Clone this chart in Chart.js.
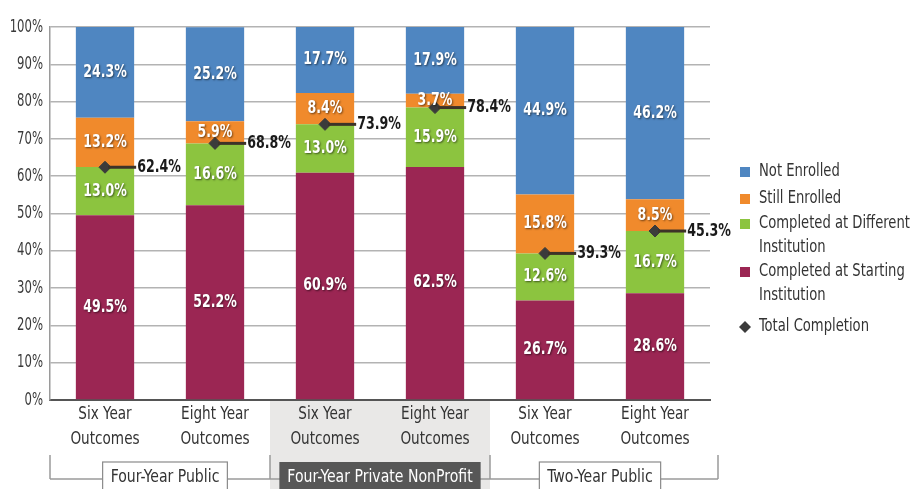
<!DOCTYPE html>
<html>
<head>
<meta charset="utf-8">
<script src="https://cdn.jsdelivr.net/npm/chart.js@4"></script>
<style>
  html, body { margin: 0; padding: 0; background: #fff; }
  #wrap { width: 912px; height: 489px; position: relative; }
</style>
</head>
<body>
<div id="wrap"><canvas id="chart"></canvas></div>
<script>
// Categorías y grupos
const categories = [
    ['Six Year', 'Outcomes'], ['Eight Year', 'Outcomes'],
    ['Six Year', 'Outcomes'], ['Eight Year', 'Outcomes'],
    ['Six Year', 'Outcomes'], ['Eight Year', 'Outcomes']
];
const groups = ['Four-Year Public', 'Four-Year Private NonProfit', 'Two-Year Public'];
const yTicks = [0, 10, 20, 30, 40, 50, 60, 70, 80, 90, 100];

// Series (porcentajes)
const completedStarting = [49.5, 52.2, 60.9, 62.5, 26.7, 28.6];
const completedDifferent = [13.0, 16.6, 13.0, 15.9, 12.6, 16.7];
const stillEnrolled = [13.2, 5.9, 8.4, 3.7, 15.8, 8.5];
const notEnrolled = [24.3, 25.2, 17.7, 17.9, 44.9, 46.2];
const totalCompletion = [62.4, 68.8, 73.9, 78.4, 39.3, 45.3];

const FONT = '"DejaVu Sans Condensed", "DejaVu Sans", sans-serif';
const colors = {
    notEnrolled: '#4f86c1',
    still: '#f08a2c',
    different: '#8cc43f',
    starting: '#9b2653',
    total: '#3b3b3b'
};

// Texto comprimido horizontalmente (la fuente original es condensada)
function narrowText(ctx, text, x, y, sx, align) {
    ctx.save();
    ctx.translate(x, y);
    ctx.scale(sx, 1);
    ctx.textAlign = align;
    ctx.fillText(text, 0, 0);
    ctx.restore();
}

// Fondo gris del grupo central, etiquetas de ejes y grupos
const groupDecor = {
    id: 'groupDecor',
    beforeDraw(chart) {
        const ctx = chart.ctx, xs = chart.scales.x, area = chart.chartArea;
        const step = xs.getPixelForValue(1) - xs.getPixelForValue(0);
        ctx.save();
        ctx.fillStyle = '#e9e8e7';
        const x0 = xs.getPixelForValue(2) - step / 2;
        ctx.fillRect(x0, area.bottom + 1, step * 2, chart.height - area.bottom);
        ctx.restore();
    },
    afterDraw(chart) {
        const ctx = chart.ctx, xs = chart.scales.x, ys = chart.scales.y, area = chart.chartArea;
        const step = xs.getPixelForValue(1) - xs.getPixelForValue(0);
        ctx.save();
        ctx.textBaseline = 'middle';

        // Etiquetas del eje Y
        ctx.fillStyle = '#3a3a3a';
        ctx.font = '18px ' + FONT;
        yTicks.forEach(v => narrowText(ctx, v + '%', area.left - 7, ys.getPixelForValue(v), 0.72, 'right'));

        // Etiquetas de categorías
        ctx.fillStyle = '#333';
        ctx.font = '18px ' + FONT;
        categories.forEach((lines, i) => {
            lines.forEach((t, k) => narrowText(ctx, t, xs.getPixelForValue(i), 414 + k * 25, 0.84, 'center'));
        });

        // Corchetes de grupos
        const lineY = 479;
        ctx.strokeStyle = '#9a9a9a';
        ctx.lineWidth = 1.5;
        ctx.beginPath();
        ctx.moveTo(area.left, lineY); ctx.lineTo(area.right + 8, lineY);
        for (let g = 0; g <= 3; g++) {
            let x = xs.getPixelForValue(g * 2) - step / 2;
            if (g === 3) x += 8;
            ctx.moveTo(x, 455); ctx.lineTo(x, lineY);
        }
        ctx.stroke();

        ctx.font = '17px ' + FONT;
        groups.forEach((name, g) => {
            const cx = (xs.getPixelForValue(g * 2) + xs.getPixelForValue(g * 2 + 1)) / 2 + (g === 0 ? 5 : 0);
            const w = ctx.measureText(name).width * 0.92 + 16;
            const dark = g === 1;
            ctx.fillStyle = dark ? '#575757' : '#fff';
            ctx.fillRect(cx - w / 2, 462, w, 30);
            if (!dark) {
                ctx.strokeStyle = '#8a8a8a';
                ctx.lineWidth = 1.2;
                ctx.strokeRect(cx - w / 2, 462, w, 30);
            }
            ctx.fillStyle = dark ? '#fff' : '#333';
            narrowText(ctx, name, cx, 478, 0.92, 'center');
        });
        ctx.restore();
    }
};

// Etiquetas de segmentos, totales y leyenda
const labelsPlugin = {
    id: 'labelsPlugin',
    afterDatasetsDraw(chart) {
        const ctx = chart.ctx;
        ctx.save();
        ctx.font = 'bold 17px ' + FONT;
        ctx.textBaseline = 'middle';
        chart.data.datasets.forEach((ds, i) => {
            if (ds.type === 'line') return;
            chart.getDatasetMeta(i).data.forEach((bar, j) => {
                ctx.shadowColor = 'rgba(0,0,0,0.55)';
                ctx.shadowBlur = 2;
                ctx.shadowOffsetX = 1;
                ctx.shadowOffsetY = 1;
                ctx.fillStyle = '#fff';
                narrowText(ctx, ds.data[j].toFixed(1) + '%', bar.x, (bar.y + bar.base) / 2, 0.82, 'center');
            });
        });
        ctx.shadowColor = 'transparent';
        const bars = chart.getDatasetMeta(0).data;
        const tIdx = chart.data.datasets.findIndex(d => d.type === 'line');
        ctx.font = 'bold 18px ' + FONT;
        chart.getDatasetMeta(tIdx).data.forEach((pt, j) => {
            const right = bars[j].x + bars[j].width / 2;
            ctx.strokeStyle = '#3d3328';
            ctx.lineWidth = 3;
            ctx.beginPath();
            ctx.moveTo(pt.x + 3, pt.y);
            ctx.lineTo(right + 2, pt.y);
            ctx.stroke();
            ctx.fillStyle = '#1a1a1a';
            narrowText(ctx, totalCompletion[j].toFixed(1) + '%', right + 3, pt.y, 0.78, 'left');
        });

        // Leyenda
        const items = [
            { text: ['Not Enrolled'], color: colors.notEnrolled, y: 172 },
            { text: ['Still Enrolled'], color: colors.still, y: 199 },
            { text: ['Completed at Different', 'Institution'], color: colors.different, y: 224 },
            { text: ['Completed at Starting', 'Institution'], color: colors.starting, y: 272 },
            { text: ['Total Completion'], color: colors.total, y: 327, diamond: true }
        ];
        ctx.font = '17px ' + FONT;
        items.forEach(it => {
            ctx.fillStyle = it.color;
            if (it.diamond) {
                ctx.beginPath();
                ctx.moveTo(745, it.y - 6); ctx.lineTo(751, it.y);
                ctx.lineTo(745, it.y + 6); ctx.lineTo(739, it.y);
                ctx.closePath(); ctx.fill();
            } else {
                ctx.fillRect(740, it.y - 5, 10, 10);
            }
            ctx.fillStyle = '#333';
            it.text.forEach((t, k) => narrowText(ctx, t, 759, it.y + k * 24, 0.86, 'left'));
        });
        ctx.restore();
    }
};

const barBase = { type: 'bar', stack: 'outcomes', barPercentage: 0.53, categoryPercentage: 1, order: 1 };

new Chart(document.getElementById('chart').getContext('2d'), {
    data: {
        labels: categories,
        datasets: [
            Object.assign({ label: 'Completed at Starting Institution', data: completedStarting, backgroundColor: colors.starting }, barBase),
            Object.assign({ label: 'Completed at Different Institution', data: completedDifferent, backgroundColor: colors.different }, barBase),
            Object.assign({ label: 'Still Enrolled', data: stillEnrolled, backgroundColor: colors.still }, barBase),
            Object.assign({ label: 'Not Enrolled', data: notEnrolled, backgroundColor: colors.notEnrolled }, barBase),
            {
                type: 'line', label: 'Total Completion', data: totalCompletion, stack: 'total',
                showLine: false, pointStyle: 'rectRot', pointRadius: 6,
                backgroundColor: colors.total, borderColor: colors.total, order: 0
            }
        ]
    },
    options: {
        responsive: true,
        maintainAspectRatio: false,
        animation: false,
        layout: { padding: { top: 27, right: 202, left: 0, bottom: 0 } },
        plugins: { legend: { display: false }, tooltip: { enabled: false } },
        scales: {
            x: {
                stacked: true,
                grid: { display: false },
                border: { display: true, color: '#555', width: 2 },
                ticks: { display: false },
                afterFit: s => { s.height = 89; }
            },
            y: {
                stacked: true,
                min: 0, max: 100,
                afterBuildTicks: s => { s.ticks = yTicks.map(v => ({ value: v })); },
                grid: { color: '#b3b3b3', lineWidth: 1.5, drawTicks: false },
                border: { display: true, color: '#9a9a9a', width: 1.5 },
                ticks: { display: false },
                afterFit: s => { s.width = 50; }
            }
        }
    },
    plugins: [groupDecor, labelsPlugin]
});
</script>
</body>
</html>
